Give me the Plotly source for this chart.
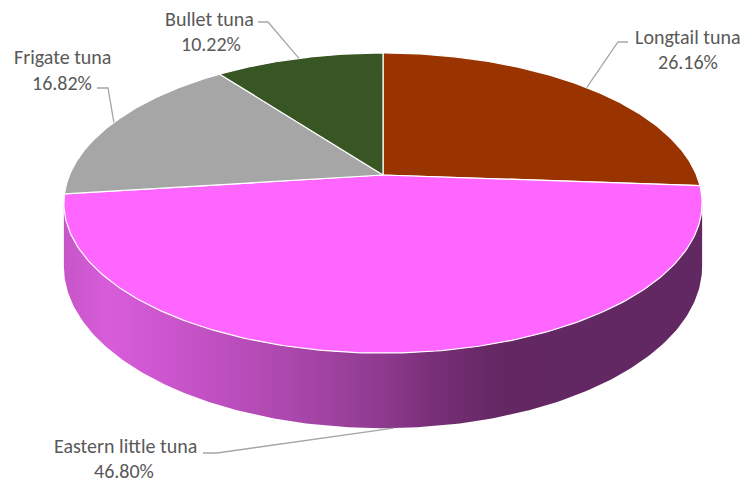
import numpy as np
import plotly.graph_objects as go

# ---- data ----
labels = ["Longtail tuna", "Eastern little tuna", "Frigate tuna", "Bullet tuna"]
values = [26.16, 46.80, 16.82, 10.22]
pct_text = ["26.16%", "46.80%", "16.82%", "10.22%"]
colors = ["#993300", "#FF66FF", "#A6A6A6", "#375623"]

# ---- geometry (pixel space, perspective 3D pie) ----
W, H = 745, 482
CX, CY = 383.0, 175.0
R, A, K, T = 313.5, 144.8, 0.187, 61.0


def proj(theta_deg):
    th = np.radians(theta_deg)
    u, v = np.sin(th), np.cos(th)
    s = 1.0 / (1.0 + K * v)
    return CX + R * u * s, CY - A * v * s, s


fig = go.Figure()

total = sum(values)
bounds = np.concatenate([[0], np.cumsum(values) / total * 360.0])

# visible side range
t_right = 90 + np.degrees(np.arcsin(K))
t_left = 270 - np.degrees(np.arcsin(K))

side_scale = [
    [0.0, "#C656C8"], [0.07, "#D85CDA"], [0.21, "#C452C6"], [0.37, "#A846AA"],
    [0.5, "#8E3A8E"], [0.57, "#7A3079"], [0.68, "#632863"], [1.0, "#622862"],
]

# sides
for i in range(len(values)):
    a0, a1 = max(bounds[i], t_right), min(bounds[i + 1], t_left)
    if a1 <= a0:
        continue
    th = np.linspace(a0, a1, 200)
    xt, yt, st = proj(th)
    yb = yt + T * st
    xs = np.concatenate([xt, xt[::-1]])
    ys = np.concatenate([yt, yb[::-1]])
    fig.add_trace(go.Scatter(
        x=xs, y=ys, mode="lines", fill="toself",
        line=dict(width=0, color="rgba(0,0,0,0)"),
        fillgradient=dict(type="horizontal", colorscale=side_scale),
        hoverinfo="skip", showlegend=False))

# top faces
for i in range(len(values)):
    th = np.linspace(bounds[i], bounds[i + 1], 200)
    xt, yt, _ = proj(th)
    xs = np.concatenate([[CX], xt, [CX]])
    ys = np.concatenate([[CY], yt, [CY]])
    fig.add_trace(go.Scatter(
        x=xs, y=ys, mode="lines", fill="toself", fillcolor=colors[i],
        line=dict(width=1.2, color="white"),
        name=labels[i], hoverinfo="name", showlegend=False))

# labels (layout positions)
name_pos = {
    "Longtail tuna": (688, 37),
    "Eastern little tuna": (125, 446),
    "Frigate tuna": (62, 57),
    "Bullet tuna": (209, 19),
}
pct_pos = {
    "Longtail tuna": (688, 62),
    "Eastern little tuna": (124, 471),
    "Frigate tuna": (62, 83),
    "Bullet tuna": (211, 44),
}
elbows = {
    "Longtail tuna": [(628, 42), (618, 42)],
    "Eastern little tuna": [(203, 453), (217, 453)],
    "Frigate tuna": [(97, 88), (108, 88)],
    "Bullet tuna": [(258, 22), (268, 22)],
}

font = dict(family="Carlito, Lato, 'Open Sans', sans-serif", size=20, color="#595959")

for i, lab in enumerate(labels):
    mid = (bounds[i] + bounds[i + 1]) / 2
    ax_, ay_, s_ = proj(mid)
    if 90 < mid < 270:
        ay_ = ay_ + T * s_
    pts = elbows[lab] + [(ax_, ay_)]
    fig.add_trace(go.Scatter(
        x=[p[0] for p in pts], y=[p[1] for p in pts], mode="lines",
        line=dict(color="#A6A6A6", width=1.3), hoverinfo="skip", showlegend=False))
    nx, ny = name_pos[lab]
    px, py = pct_pos[lab]
    fig.add_annotation(x=nx, y=ny, text=lab, showarrow=False, font=font,
                       xanchor="center", yanchor="middle")
    fig.add_annotation(x=px, y=py, text=pct_text[i], showarrow=False, font=font,
                       xanchor="center", yanchor="middle")

fig.update_layout(
    width=W, height=H,
    margin=dict(l=0, r=0, t=0, b=0),
    paper_bgcolor="white", plot_bgcolor="white",
    xaxis=dict(range=[0, W], visible=False, fixedrange=True),
    yaxis=dict(range=[H, 0], visible=False, fixedrange=True),
    showlegend=False,
)

fig.write_html("out.html", config={"displayModeBar": False},
               post_script="document.body.style.margin='0';document.body.style.overflow='hidden';")
